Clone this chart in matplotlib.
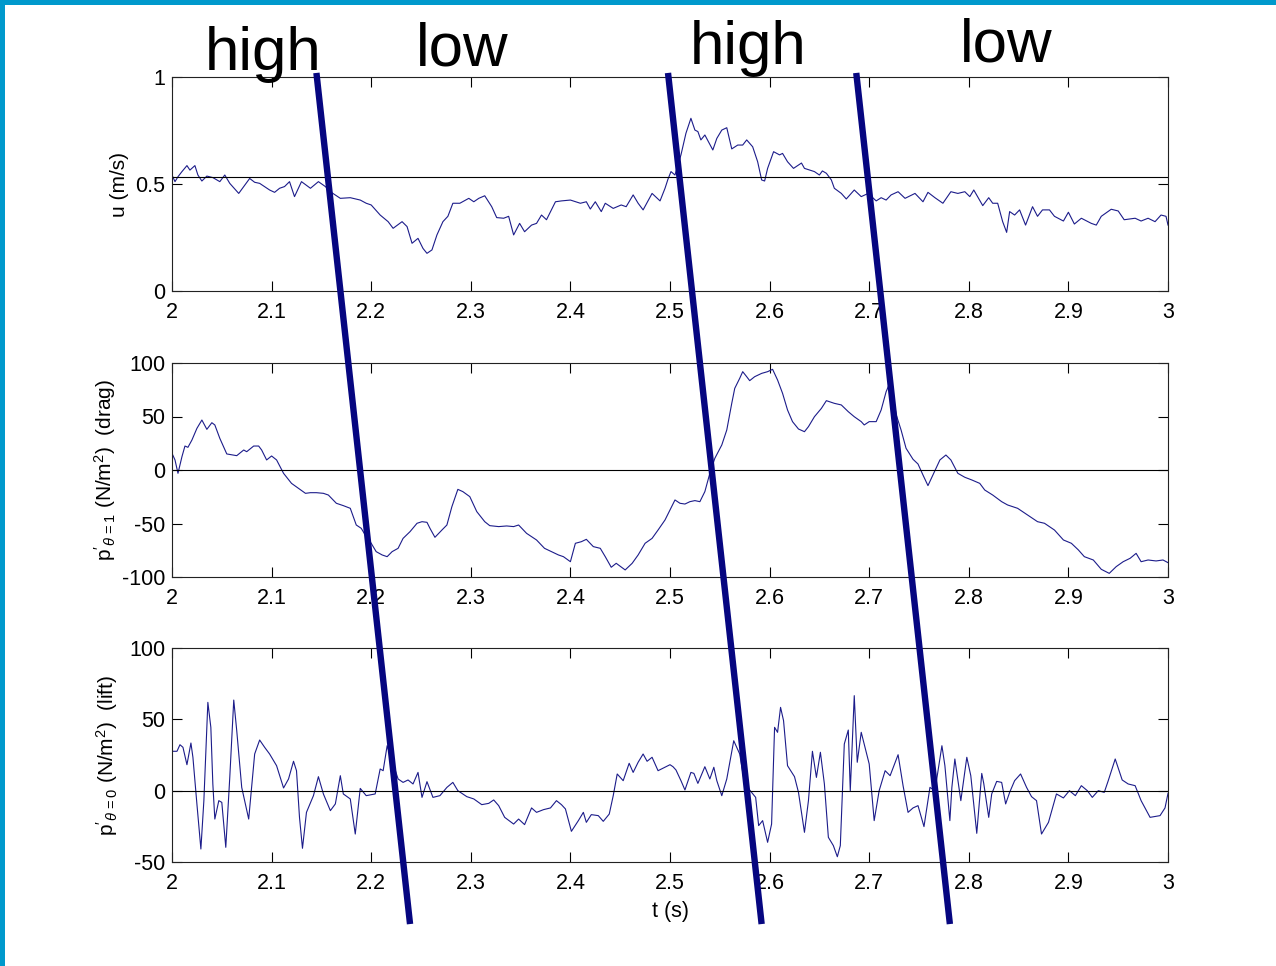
import matplotlib
matplotlib.use("Agg")
from matplotlib import pyplot as plt
from matplotlib.patches import ConnectionPatch, Rectangle

plt.rcParams['font.family'] = ['Liberation Sans', 'DejaVu Sans']
plt.rcParams['mathtext.fontset'] = 'custom'
plt.rcParams['mathtext.rm'] = 'Liberation Sans'
plt.rcParams['mathtext.it'] = 'Liberation Sans:italic'
plt.rcParams['axes.unicode_minus'] = False

# streamwise velocity u (m/s)
t_u = [2.000, 2.003, 2.006, 2.010, 2.015, 2.018, 2.023, 2.026, 2.030, 2.035, 2.041, 2.048,
       2.053, 2.058, 2.067, 2.072, 2.078, 2.083, 2.088, 2.098, 2.103, 2.108, 2.113, 2.118,
       2.123, 2.130, 2.139, 2.147, 2.154, 2.159, 2.169, 2.179, 2.189, 2.195, 2.200, 2.209,
       2.217, 2.222, 2.231, 2.236, 2.241, 2.247, 2.252, 2.256, 2.261, 2.266, 2.272, 2.277,
       2.282, 2.289, 2.298, 2.303, 2.308, 2.314, 2.321, 2.326, 2.333, 2.338, 2.343, 2.349,
       2.354, 2.361, 2.366, 2.371, 2.376, 2.385, 2.391, 2.400, 2.410, 2.416, 2.420, 2.425,
       2.431, 2.435, 2.443, 2.451, 2.456, 2.463, 2.468, 2.473, 2.482, 2.490, 2.495, 2.498,
       2.501, 2.505, 2.511, 2.516, 2.521, 2.525, 2.528, 2.531, 2.535, 2.543, 2.547, 2.552,
       2.557, 2.562, 2.568, 2.573, 2.577, 2.583, 2.588, 2.592, 2.595, 2.598, 2.604, 2.610,
       2.613, 2.618, 2.624, 2.632, 2.635, 2.645, 2.650, 2.653, 2.657, 2.662, 2.665, 2.672,
       2.677, 2.685, 2.692, 2.699, 2.707, 2.712, 2.717, 2.722, 2.729, 2.736, 2.746, 2.754,
       2.759, 2.766, 2.774, 2.782, 2.789, 2.796, 2.801, 2.805, 2.814, 2.820, 2.824, 2.829,
       2.834, 2.838, 2.841, 2.846, 2.851, 2.857, 2.864, 2.869, 2.874, 2.881, 2.886, 2.895,
       2.900, 2.906, 2.913, 2.923, 2.928, 2.933, 2.943, 2.950, 2.956, 2.967, 2.973, 2.980,
       2.987, 2.993, 2.998, 3.000]
u = [0.542, 0.511, 0.534, 0.558, 0.586, 0.565, 0.586, 0.542, 0.514, 0.537, 0.530, 0.511,
     0.542, 0.503, 0.456, 0.488, 0.526, 0.508, 0.503, 0.472, 0.461, 0.480, 0.488, 0.511,
     0.441, 0.511, 0.480, 0.511, 0.488, 0.464, 0.433, 0.436, 0.425, 0.410, 0.402, 0.355,
     0.324, 0.293, 0.324, 0.301, 0.223, 0.246, 0.199, 0.176, 0.192, 0.262, 0.324, 0.349,
     0.410, 0.410, 0.433, 0.417, 0.433, 0.445, 0.394, 0.343, 0.340, 0.349, 0.262, 0.316,
     0.277, 0.308, 0.316, 0.355, 0.333, 0.417, 0.421, 0.425, 0.410, 0.417, 0.383, 0.417,
     0.371, 0.410, 0.386, 0.402, 0.394, 0.449, 0.410, 0.379, 0.456, 0.421, 0.480, 0.523,
     0.558, 0.542, 0.636, 0.737, 0.807, 0.752, 0.745, 0.706, 0.729, 0.659, 0.713, 0.752,
     0.763, 0.664, 0.682, 0.682, 0.706, 0.674, 0.604, 0.519, 0.514, 0.573, 0.651, 0.636,
     0.643, 0.604, 0.573, 0.598, 0.573, 0.558, 0.542, 0.561, 0.550, 0.519, 0.480, 0.456,
     0.430, 0.472, 0.441, 0.456, 0.421, 0.436, 0.425, 0.449, 0.464, 0.433, 0.456, 0.417,
     0.461, 0.436, 0.410, 0.464, 0.456, 0.464, 0.441, 0.472, 0.399, 0.436, 0.410, 0.410,
     0.324, 0.274, 0.371, 0.355, 0.379, 0.308, 0.394, 0.349, 0.379, 0.379, 0.349, 0.327,
     0.368, 0.313, 0.340, 0.316, 0.308, 0.349, 0.382, 0.374, 0.333, 0.340, 0.327, 0.340,
     0.324, 0.355, 0.349, 0.308]
u_mean = 0.533

# pressure at theta = 1 (drag)
t_drag = [2.000, 2.003, 2.006, 2.010, 2.013, 2.016, 2.020, 2.025, 2.030, 2.035, 2.040, 2.043,
          2.048, 2.055, 2.065, 2.072, 2.075, 2.082, 2.087, 2.090, 2.095, 2.100, 2.105, 2.112,
          2.120, 2.127, 2.134, 2.139, 2.145, 2.152, 2.157, 2.165, 2.172, 2.179, 2.185, 2.190,
          2.195, 2.200, 2.205, 2.211, 2.216, 2.221, 2.227, 2.232, 2.239, 2.246, 2.251, 2.256,
          2.259, 2.264, 2.271, 2.276, 2.281, 2.287, 2.292, 2.299, 2.306, 2.314, 2.319, 2.328,
          2.336, 2.343, 2.348, 2.356, 2.366, 2.374, 2.381, 2.388, 2.393, 2.400, 2.405, 2.411,
          2.416, 2.423, 2.430, 2.435, 2.441, 2.446, 2.455, 2.462, 2.468, 2.475, 2.482, 2.488,
          2.495, 2.500, 2.505, 2.510, 2.515, 2.520, 2.525, 2.530, 2.535, 2.540, 2.545, 2.552,
          2.557, 2.562, 2.565, 2.570, 2.573, 2.577, 2.580, 2.585, 2.592, 2.598, 2.603, 2.608,
          2.613, 2.618, 2.623, 2.629, 2.635, 2.639, 2.645, 2.652, 2.657, 2.665, 2.672, 2.679,
          2.685, 2.692, 2.695, 2.700, 2.707, 2.712, 2.717, 2.721, 2.724, 2.727, 2.732, 2.737,
          2.744, 2.749, 2.754, 2.759, 2.764, 2.771, 2.777, 2.782, 2.789, 2.796, 2.803, 2.811,
          2.816, 2.824, 2.833, 2.839, 2.849, 2.859, 2.869, 2.876, 2.886, 2.895, 2.903, 2.910,
          2.916, 2.925, 2.933, 2.941, 2.948, 2.955, 2.962, 2.968, 2.973, 2.980, 2.988, 2.995,
          3.000]
p_drag = [15.6, 9.4, -3.1, 12.5, 22.4, 21.2, 28.0, 38.9, 46.7, 38.0, 44.2, 42.1,
          29.6, 15.0, 13.4, 18.7, 17.1, 22.4, 22.4, 18.7, 9.4, 13.1, 9.4, -3.1,
          -12.5, -17.1, -21.8, -21.2, -21.2, -21.8, -23.4, -31.1, -33.3, -35.8, -51.4, -54.5,
          -62.3, -68.5, -76.3, -79.4, -81.0, -76.3, -73.2, -63.9, -57.6, -49.8, -48.3, -48.9,
          -54.5, -62.9, -56.1, -51.4, -34.3, -18.1, -20.2, -24.9, -38.9, -48.3, -52.0, -52.9,
          -52.3, -52.9, -51.4, -59.2, -65.4, -73.2, -76.3, -79.4, -81.0, -85.7, -68.5, -67.0,
          -64.8, -71.6, -73.2, -81.0, -90.9, -87.2, -93.4, -87.2, -79.4, -68.5, -63.9, -56.1,
          -46.7, -37.4, -28.0, -31.1, -31.8, -29.6, -28.6, -29.6, -20.2, -3.1, 10.9, 23.4,
          37.4, 62.3, 76.3, 85.7, 91.9, 87.2, 83.5, 87.2, 90.3, 91.9, 94.1, 84.1,
          71.7, 56.1, 45.2, 38.3, 35.8, 40.5, 49.8, 57.6, 64.8, 62.3, 60.8, 54.5,
          49.8, 45.2, 42.1, 45.2, 45.2, 56.1, 73.2, 82.0, 70.0, 52.0, 37.4, 20.3,
          10.0, 5.6, -4.7, -14.6, -4.7, 9.4, 14.0, 9.4, -3.1, -6.8, -9.3, -12.5,
          -18.7, -23.4, -29.6, -32.7, -35.8, -42.0, -48.3, -49.8, -56.1, -65.4, -68.5, -74.7,
          -81.0, -84.1, -92.8, -96.6, -90.3, -85.7, -82.5, -77.9, -85.7, -84.1, -85.0, -84.1,
          -86.6]

# pressure at theta = 0 (lift)
t_lift = [2.000, 2.005, 2.008, 2.011, 2.015, 2.019, 2.021, 2.025, 2.029, 2.032, 2.036, 2.039,
          2.041, 2.043, 2.047, 2.050, 2.054, 2.058, 2.062, 2.065, 2.070, 2.077, 2.083, 2.088,
          2.093, 2.098, 2.105, 2.112, 2.117, 2.122, 2.125, 2.128, 2.131, 2.135, 2.142, 2.147,
          2.152, 2.159, 2.164, 2.169, 2.172, 2.179, 2.184, 2.189, 2.195, 2.204, 2.209, 2.212,
          2.216, 2.227, 2.232, 2.237, 2.242, 2.247, 2.251, 2.256, 2.262, 2.269, 2.276, 2.282,
          2.287, 2.296, 2.303, 2.311, 2.318, 2.323, 2.328, 2.334, 2.343, 2.348, 2.354, 2.361,
          2.366, 2.373, 2.380, 2.386, 2.391, 2.395, 2.401, 2.408, 2.413, 2.416, 2.421, 2.428,
          2.433, 2.439, 2.443, 2.447, 2.453, 2.459, 2.463, 2.468, 2.473, 2.477, 2.482, 2.488,
          2.495, 2.500, 2.503, 2.506, 2.511, 2.515, 2.521, 2.524, 2.528, 2.535, 2.540, 2.544,
          2.547, 2.552, 2.557, 2.564, 2.570, 2.575, 2.586, 2.589, 2.593, 2.598, 2.602, 2.605,
          2.608, 2.611, 2.614, 2.618, 2.625, 2.629, 2.635, 2.639, 2.643, 2.647, 2.651, 2.655,
          2.659, 2.664, 2.668, 2.671, 2.675, 2.679, 2.681, 2.685, 2.688, 2.692, 2.697, 2.700,
          2.705, 2.710, 2.716, 2.721, 2.729, 2.734, 2.739, 2.744, 2.749, 2.755, 2.761, 2.766,
          2.773, 2.776, 2.781, 2.783, 2.786, 2.792, 2.798, 2.802, 2.808, 2.813, 2.815, 2.820,
          2.823, 2.828, 2.833, 2.837, 2.841, 2.846, 2.852, 2.858, 2.863, 2.868, 2.873, 2.880,
          2.888, 2.895, 2.901, 2.907, 2.913, 2.919, 2.924, 2.930, 2.936, 2.940, 2.947, 2.954,
          2.960, 2.967, 2.973, 2.982, 2.992, 2.997, 3.000]
p_lift = [27.6, 27.6, 32.2, 30.4, 18.2, 33.4, 23.4, -9.3, -40.9, -7.0, 61.9, 44.4,
          4.7, -19.9, -7.0, -8.2, -39.7, 9.3, 63.5, 42.0, 2.3, -19.9, 25.7, 35.5,
          30.4, 25.7, 17.5, 1.9, 8.2, 20.6, 14.0, -18.7, -40.4, -15.2, -3.5, 9.8,
          -2.3, -14.0, -9.3, 10.5, -2.3, -5.8, -30.4, 1.6, -3.5, -2.3, 15.2, 14.0,
          31.5, 8.2, 5.8, 7.5, 4.7, 12.8, -4.7, 6.3, -4.7, -3.5, 2.3, 5.8,
          0.0, -4.2, -5.8, -9.8, -8.9, -6.5, -10.5, -18.7, -23.4, -19.9, -23.8, -12.1,
          -15.2, -13.3, -12.1, -7.0, -9.8, -12.8, -28.5, -21.0, -15.2, -22.2, -16.8, -17.5,
          -21.5, -16.4, -3.5, 11.7, 7.0, 19.2, 12.8, 19.9, 25.7, 20.6, 23.4, 14.0,
          16.4, 18.2, 16.8, 14.5, 7.0, 0.5, 12.8, 12.1, 5.1, 16.8, 8.2, 16.4,
          7.0, -3.5, 8.2, 35.0, 25.7, 4.7, -4.7, -24.5, -21.0, -36.2, -23.4, 44.4,
          40.9, 58.4, 49.1, 17.5, 9.8, -1.2, -29.2, -7.0, 27.6, 9.3, 26.9, 4.7,
          -32.7, -38.5, -46.3, -38.5, 32.7, 42.5, 0.0, 66.6, 19.9, 40.9, 26.9, 18.7,
          -21.0, 0.0, 14.0, 10.5, 25.2, 3.5, -15.2, -12.1, -10.5, -25.2, 2.3, 0.0,
          31.5, 17.5, -21.0, 2.3, 22.2, -7.0, 23.4, 10.5, -29.9, 12.1, 5.1, -18.7,
          -2.3, 6.5, 5.8, -9.3, -1.2, 7.0, 11.7, 2.3, -4.2, -7.0, -30.4, -22.2,
          -2.3, -5.1, 0.0, -3.5, 3.5, 0.0, -4.7, 0.0, -1.2, 7.0, 22.2, 7.5,
          4.7, 3.5, -7.0, -18.7, -17.5, -12.1, -1.9]

x_ticks = [2.0, 2.1, 2.2, 2.3, 2.4, 2.5, 2.6, 2.7, 2.8, 2.9, 3.0]
x_labels = ['2', '2.1', '2.2', '2.3', '2.4', '2.5', '2.6', '2.7', '2.8', '2.9', '3']

# regions: high / low, slanted divider lines (time at top of panel 1, time at bottom of panel 3)
region_labels = ['high', 'low', 'high', 'low']
cut_top = [2.145, 2.498, 2.687]
cut_bottom = [2.239, 2.592, 2.781]

trace_col = '#1c1c8a'
cut_col = '#060680'

fig = plt.figure(figsize=(12.76, 9.66), dpi=100)
fig.patch.set_facecolor('white')

W, H = 1276.0, 966.0
left, width, height = 172 / W, 996 / W, 214 / H
ax1 = fig.add_axes([left, 1 - 291 / H, width, height])
ax2 = fig.add_axes([left, 1 - 577 / H, width, height])
ax3 = fig.add_axes([left, 1 - 862 / H, width, height])

ax1.plot(t_u, u, color=trace_col, lw=0.8)
ax1.axhline(u_mean, color='black', lw=0.8)
ax1.set_ylim(0, 1)
ax1.set_yticks([0, 0.5, 1])
ax1.set_yticklabels(['0', '0.5', '1'])
ax1.set_ylabel('u (m/s)')
ax1.yaxis.set_label_coords(-0.043, 0.5)

ax2.plot(t_drag, p_drag, color=trace_col, lw=0.8)
ax2.axhline(0, color='black', lw=0.8)
ax2.set_ylim(-100, 100)
ax2.set_yticks([-100, -50, 0, 50, 100])
ax2.set_ylabel(r"$\mathrm{p}'_{\theta\,=1}$ (N/m$^2$)  (drag)")
ax2.yaxis.set_label_coords(-0.054, 0.5)

ax3.plot(t_lift, p_lift, color=trace_col, lw=0.8)
ax3.axhline(0, color='black', lw=0.8)
ax3.set_ylim(-50, 100)
ax3.set_yticks([-50, 0, 50, 100])
ax3.set_ylabel(r"$\mathrm{p}'_{\theta\,=0}$ (N/m$^2$)  (lift)")
ax3.yaxis.set_label_coords(-0.052, 0.5)
ax3.set_xlabel('t (s)', labelpad=5)

for ax in (ax1, ax2, ax3):
    ax.set_xlim(2, 3)
    ax.set_xticks(x_ticks)
    ax.set_xticklabels(x_labels)
    ax.tick_params(direction='in', length=7, width=0.8, top=True, right=True,
                   labelsize=15.5, colors='black')
    ax.tick_params(axis='x', pad=8)
    ax.tick_params(axis='y', pad=5)
    ax.yaxis.label.set_size(15)
    ax.xaxis.label.set_size(15.5)
    for s in ax.spines.values():
        s.set_linewidth(0.8)
        s.set_color('#222222')

# slanted divider lines across all three panels
for ta, tb in zip(cut_top, cut_bottom):
    con = ConnectionPatch(xyA=(ta, 1.019), coordsA=ax1.transData,
                          xyB=(tb, -93.5), coordsB=ax3.transData,
                          color=cut_col, lw=4.6, capstyle='butt')
    con.set_clip_on(False)
    fig.add_artist(con)

# region labels
label_x = [263, 462, 748, 1006]
label_y = [70, 65, 64, 61]
for txt, lx, ly in zip(region_labels, label_x, label_y):
    fig.text(lx / W, 1 - ly / H, txt, fontsize=44.5, ha='center', va='baseline', color='black')

# slide border
fig.add_artist(Rectangle((0, 1 - 5 / H), 1, 5 / H, transform=fig.transFigure,
                         color='#0099cc', lw=0))
fig.add_artist(Rectangle((0, 0), 5 / W, 1, transform=fig.transFigure,
                         color='#0099cc', lw=0))

fig.savefig('out.png', dpi=100)
